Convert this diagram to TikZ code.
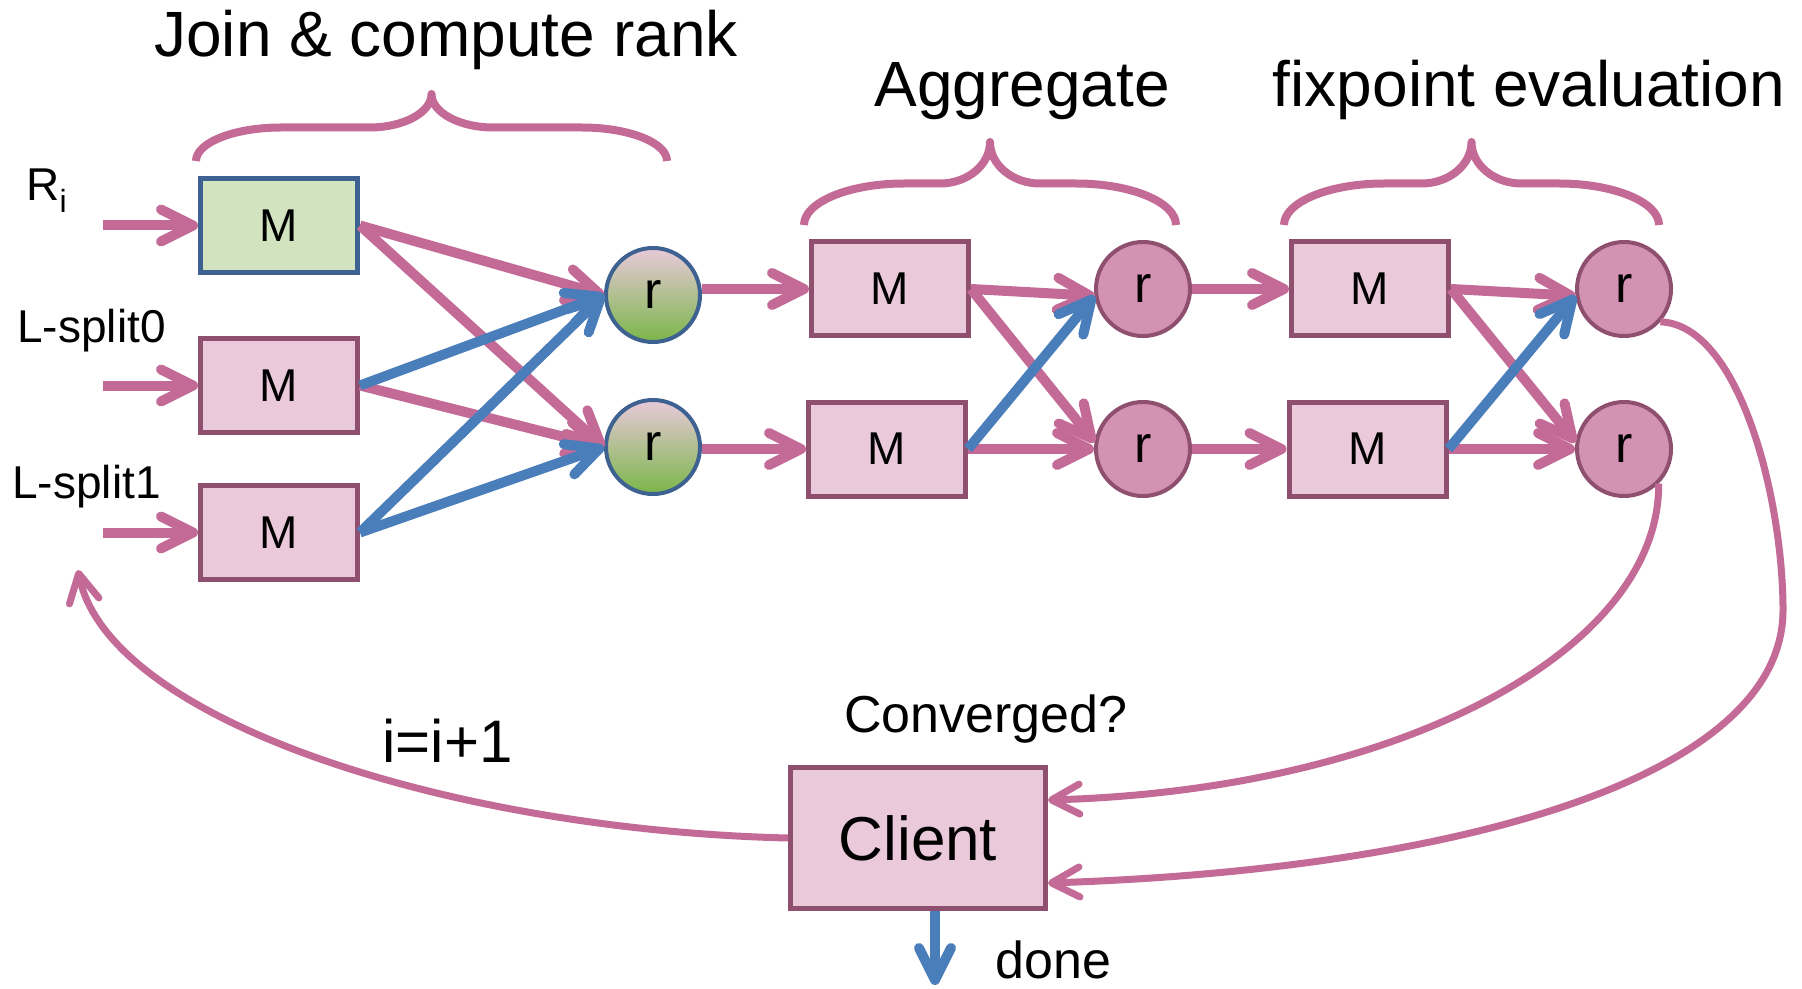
\documentclass[tikz,border=0pt]{standalone}
\usepackage{fontspec}
\setmainfont{Liberation Sans}
\usetikzlibrary{arrows.meta,calc}
\definecolor{pinkln}{RGB}{196,106,150}
\definecolor{bluln}{RGB}{74,126,187}
\definecolor{boxfill}{RGB}{233,201,218}
\definecolor{boxbd}{RGB}{143,80,112}
\definecolor{circfill}{RGB}{212,146,178}
\definecolor{gfill}{RGB}{209,228,191}
\definecolor{gbd}{RGB}{61,98,145}
\definecolor{ggrad}{RGB}{122,182,72}
\newcommand\mybrace[6]{%
  \pgfmathsetmacro\bL{#1}\pgfmathsetmacro\bR{#2}%
  \pgfmathsetmacro\bT{#3}\pgfmathsetmacro\bB{#4}%
  \pgfmathsetmacro\ba{#5}\pgfmathsetmacro\bb{#6}%
  \pgfmathsetmacro\bM{(\bL+\bR)/2}\pgfmathsetmacro\bH{(\bT+\bB)/2}%
  \draw[bracestyle] (\bL,\bB) .. controls (\bL,{\bB-0.55*(\bB-\bH)}) and ({\bL+0.45*\ba},\bH) .. ({\bL+\ba},\bH)
    -- ({\bM-\bb},\bH) .. controls ({\bM-0.45*\bb},\bH) and (\bM,{\bT+0.55*(\bH-\bT)}) .. (\bM,\bT)
    .. controls (\bM,{\bT+0.55*(\bH-\bT)}) and ({\bM+0.45*\bb},\bH) .. ({\bM+\bb},\bH)
    -- ({\bR-\ba},\bH) .. controls ({\bR-0.45*\ba},\bH) and (\bR,{\bB-0.55*(\bB-\bH)}) .. (\bR,\bB);%
}
\begin{document}
\begin{tikzpicture}[x=0.5pt,y=-0.5pt,
  mbox/.style={draw=boxbd, fill=boxfill, line width=2.5pt, minimum width=78.5pt, minimum height=47pt, inner sep=0pt, font=\fontsize{23}{23}\selectfont},
  gbox/.style={mbox, draw=gbd, fill=gfill},
  rnode/.style={circle, draw=boxbd, fill=circfill, line width=2pt, minimum size=47pt, inner sep=0pt, font=\fontsize{26}{26}\selectfont},
  gr/.style={rnode, draw=gbd, top color=boxfill, bottom color=ggrad},
  conn/.style={draw=pinkln, line width=5pt, -{Straight Barb[length=16pt,width=16pt,round]}},
  bconn/.style={conn, draw=bluln},
  curv/.style={draw=pinkln, line width=3.5pt, -{Straight Barb[length=14pt,width=15pt,round]}},
  bracestyle/.style={draw=pinkln, line width=4pt, line join=round},
  bigtxt/.style={font=\fontsize{32}{32}\selectfont, inner sep=0pt, anchor=base},
  lbl/.style={font=\fontsize{23}{23}\selectfont, inner sep=0pt, anchor=base west},
  midtxt/.style={font=\fontsize{26}{26}\selectfont, inner sep=0pt},
]
\fill[white] (0,0) rectangle (1802,989);
\useasboundingbox (0,0) rectangle (1802,989);

% titles
\node[bigtxt] (t1) at (446,57) {Join \& compute rank};
\node[bigtxt] (t2) at (1022,107) {Aggregate};
\node[bigtxt] (t3) at (1529,107) {fixpoint evaluation};

% braces
\mybrace{196}{667}{94}{161}{85}{62}
\mybrace{804}{1176}{142}{225}{100}{50}
\mybrace{1284}{1659}{142}{225}{100}{50}

% input labels
\node[lbl] (ri) at (26,201) {R\raisebox{-6pt}{\fontsize{16}{16}\selectfont i}};
\node[lbl] (ls0) at (17,343) {L-split0};
\node[lbl] (ls1) at (12,498) {L-split1};

% nodes
\node[gbox] (m1) at (279,225.5) {M};
\node[mbox] (m2) at (279,385.5) {M};
\node[mbox] (m3) at (279,532.5) {M};
\node[gr] (g1) at (653,295) {r};
\node[gr] (g2) at (653,447) {r};
\node[mbox] (a1) at (890,289) {M};
\node[mbox] (a2) at (887,449) {M};
\node[rnode] (ar1) at (1143,289) {r};
\node[rnode] (ar2) at (1143,449) {r};
\node[mbox] (f1) at (1370,289) {M};
\node[mbox] (f2) at (1367.5,449) {M};
\node[rnode] (fr1) at (1624,289) {r};
\node[rnode] (fr2) at (1624,449) {r};
\node[mbox, minimum width=127.5pt, minimum height=70.5pt, font=\fontsize{31}{31}\selectfont] (cl) at (918,838) {Client};

% inputs
\coordinate (in1) at (103,225.5);
\coordinate (in2) at (103,385.5);
\coordinate (in3) at (103,532.5);
\draw[conn] (in1) -- (m1.west);
\draw[conn] (in2) -- (m2.west);
\draw[conn] (in3) -- (m3.west);

% stage 1
\draw[conn] (m1.east) -- (g1.west);
\draw[conn] (m1.east) -- (g2.west);
\draw[conn] (m2.east) -- (g2.west);
\draw[bconn] (m2.east) -- (g1.west);
\draw[bconn] (m3.east) -- (g1.west);
\draw[bconn] (m3.east) -- (g2.west);
\draw[conn] (g1.east |- a1.west) -- (a1.west);
\draw[conn] (g2.east |- a2.west) -- (a2.west);

% stage 2
\draw[conn] (a1.east) -- (ar1.188);
\draw[conn] (a1.east) -- (ar2.172);
\draw[conn] (a2.east) -- (ar2.west);
\draw[bconn] (a2.east) -- (ar1.188);
\draw[conn] (ar1.east) -- (f1.west);
\draw[conn] (ar2.east) -- (f2.west);

% stage 3
\draw[conn] (f1.east) -- (fr1.188);
\draw[conn] (f1.east) -- (fr2.172);
\draw[conn] (f2.east) -- (fr2.west);
\draw[bconn] (f2.east) -- (fr1.188);

% feedback curves
\draw[curv] (fr1.-42) .. controls (1740,325) and (1783,500) .. (1783,610)
  .. controls (1783,780) and (1450,870) .. ($(cl.east)+(0,45)$);
\draw[curv] (fr2.-45) .. controls (1660,650) and (1400,790) .. ($(cl.east)+(0,-38)$);
\coordinate (loopEnd) at (78,570);
\draw[curv] (cl.west) .. controls (450,830) and (108,720) .. (loopEnd);

% done
\coordinate (doneEnd) at (935,985);
\draw[bconn] (doneEnd |- cl.south) -- (doneEnd);

% other texts
\node[midtxt, anchor=base] (conv) at (986,732) {Converged?};
\node[midtxt, anchor=base west] (done) at (995,978) {done};
\node[font=\fontsize{30}{30}\selectfont, inner sep=0pt, anchor=base west] (inc) at (382,762) {i=i+1};
\end{tikzpicture}
\end{document}
